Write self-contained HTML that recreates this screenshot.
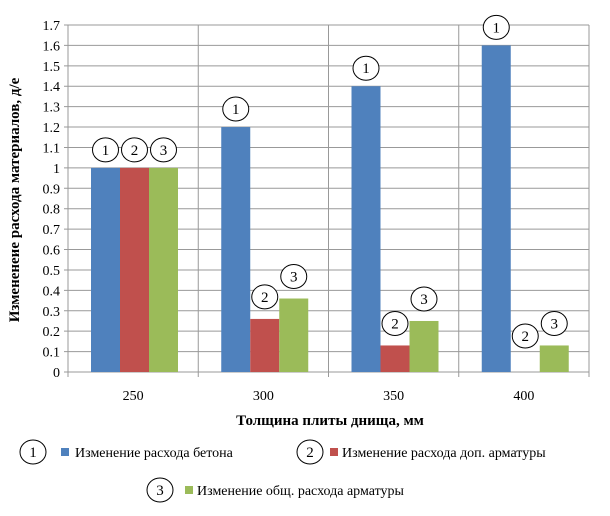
<!DOCTYPE html>
<html><head><meta charset="utf-8"><style>
body{margin:0;background:#fff}
text{font-family:"Liberation Serif",serif;fill:#000}
</style></head><body>
<svg width="610" height="511">
<g id="grid"></g><g id="bars"></g><g id="labels"></g><g id="axes"></g>
<text x="330" y="425" text-anchor="middle" font-size="15" font-weight="bold">Толщина плиты днища, мм</text>
<text transform="translate(19,200) rotate(-90)" text-anchor="middle" font-size="15" font-weight="bold">Измененеие расхода материалов, д/е</text>
<g>
<g>
<ellipse cx="33" cy="452" rx="13" ry="12" fill="#fff" stroke="#000"/><text x="33" y="457" font-size="15" text-anchor="middle">1</text>
<rect x="61" y="448" width="8" height="8" fill="#4f81bd"/><text x="75" y="457" font-size="14">Изменение расхода бетона</text></g>
<g>
<ellipse cx="310" cy="452" rx="13" ry="12" fill="#fff" stroke="#000"/><text x="310" y="457" font-size="15" text-anchor="middle">2</text>
<rect x="330" y="448" width="8" height="8" fill="#c0504d"/><text x="342" y="457" font-size="14">Изменение расхода доп. арматуры</text></g>
<g>
<ellipse cx="160" cy="490" rx="13" ry="12" fill="#fff" stroke="#000"/><text x="160" y="495" font-size="15" text-anchor="middle">3</text>
<rect x="185" y="486" width="8" height="8" fill="#9bbb59"/><text x="197" y="495" font-size="14">Изменение общ. расхода арматуры</text></g>
</g>
</svg>
<script>
const categories=["250","300","350","400"];
const concrete=[1,1.2,1.4,1.6];
const extraRebar=[1,0.26,0.13,0];
const totalRebar=[1,0.36,0.25,0.13];
const yTicks=["0","0.1","0.2","0.3","0.4","0.5","0.6","0.7","0.8","0.9","1","1.1","1.2","1.3","1.4","1.5","1.6","1.7"];
const NS="http://www.w3.org/2000/svg";
const L=68,R=589,T=25,B=372,YMAX=1.7;
const y=v=>B-(v/YMAX)*(B-T);
const gw=(R-L)/categories.length;
const x=(i,s)=>L+i*gw+23+s*29;
function mk(tag,a,p){const e=document.createElementNS(NS,tag);for(const k in a)e.setAttribute(k,a[k]);p.appendChild(e);return e;}
const grid=document.getElementById('grid'),bars=document.getElementById('bars'),labs=document.getElementById('labels'),axes=document.getElementById('axes');
yTicks.forEach((t,i)=>{const v=parseFloat(t);const yy=y(v);
 const ln=mk('line',{x1:L-4,x2:R,y1:yy,y2:yy,stroke:'#999','stroke-width':1},grid);
 
 
 const tx=mk('text',{x:L-8,y:yy+5,'text-anchor':'end','font-size':14},axes);tx.textContent=t;
 
 
});
for(let i=0;i<=categories.length;i++){const xx=L+i*gw;
 const ln=mk('line',{x1:xx,x2:xx,y1:T,y2:B+5,stroke:'#999','stroke-width':1},grid);
 
 
}
categories.forEach((c,i)=>{const tx=mk('text',{x:L+i*gw+gw/2,y:400,'text-anchor':'middle','font-size':14},axes);tx.textContent=c;
 
 
});
const series=[[concrete,'#4f81bd','1'],[extraRebar,'#c0504d','2'],[totalRebar,'#9bbb59','3']];
series.forEach(([vals,col,num],s)=>{vals.forEach((v,i)=>{
 const r=mk('rect',{x:x(i,s),y:y(v),width:29,height:B-y(v),fill:col},bars);
 
 
 const cx=x(i,s)+14.5,cy=y(v)-(v>0.5?18:22)-(v===0?14:0);
 const g=mk('g',{},labs);
 
 
 mk('ellipse',{cx:cx,cy:cy,rx:13,ry:12,fill:'#fff',stroke:'#000'},g);
 const t=mk('text',{x:cx,y:cy+5,'text-anchor':'middle','font-size':15},g);t.textContent=num;
});});
</script>
</body></html>
